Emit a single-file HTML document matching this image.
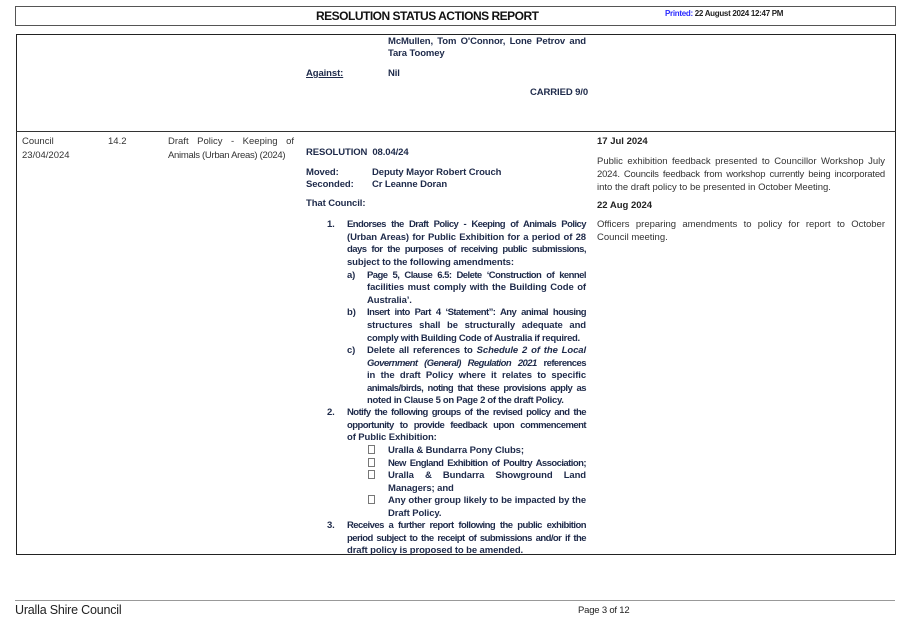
<!DOCTYPE html>
<html><head><meta charset="utf-8"><style>
html,body{margin:0;padding:0;background:#fff;width:907px;height:626px;overflow:hidden;position:relative;font-family:"Liberation Sans",sans-serif;}
.a{position:absolute;white-space:nowrap;font-size:9.5px;line-height:12px;height:12px;}
.b{font-weight:bold;color:#1e2a4a;letter-spacing:-0.1px;}
.n{color:#333;letter-spacing:0px;}
.j{text-align:justify;text-align-last:justify;white-space:normal;overflow:visible;}
.t{letter-spacing:-0.55px;}
.bx{display:inline-block;width:5px;height:7px;border:1px solid #777;vertical-align:-1px;}
</style></head><body>
<div style="position:absolute;left:15px;top:6px;width:879px;height:18px;border:1px solid #555;"></div>
<div class="a" style="left:316px;top:9px;font-size:12px;line-height:14px;height:14px;font-weight:bold;color:#111;letter-spacing:-0.5px;">RESOLUTION STATUS ACTIONS REPORT</div>
<div class="a" style="left:665px;top:8px;font-size:8px;font-weight:bold;letter-spacing:-0.3px;"><span style="color:#2b2bff">Printed:</span> <span style="color:#222">22 August 2024 12:47 PM</span></div>

<div style="position:absolute;left:16px;top:34px;width:878px;height:519px;border:1.5px solid #222;"></div>
<div style="position:absolute;left:16px;top:131px;width:880px;height:1px;background:#333;"></div>

<div class="a b j" style="left:388px;top:36px;width:198px;">McMullen, Tom O'Connor, Lone Petrov and</div>
<div class="a b" style="left:388px;top:48px;">Tara Toomey</div>
<div class="a b" style="left:306px;top:68px;text-decoration:underline;">Against:</div>
<div class="a b" style="left:388px;top:68px;">Nil</div>
<div class="a b" style="left:530px;top:87px;">CARRIED 9/0</div>

<div class="a n" style="left:22px;top:136px;">Council</div>
<div class="a n" style="left:22px;top:150px;">23/04/2024</div>
<div class="a n" style="left:108px;top:136px;">14.2</div>
<div class="a n j" style="left:168px;top:136px;width:126px;">Draft Policy - Keeping of</div>
<div class="a n" style="left:168px;top:150px;letter-spacing:-0.3px;">Animals (Urban Areas) (2024)</div>

<div class="a b" style="left:306px;top:147px;">RESOLUTION&nbsp; 08.04/24</div>
<div class="a b" style="left:306px;top:167px;">Moved:</div>
<div class="a b" style="left:372px;top:167px;">Deputy Mayor Robert Crouch</div>
<div class="a b" style="left:306px;top:179px;">Seconded:</div>
<div class="a b" style="left:372px;top:179px;">Cr Leanne Doran</div>
<div class="a b" style="left:306px;top:198px;">That Council:</div>

<div class="a b" style="left:327px;top:219px;">1.</div>
<div class="a b j t" style="left:347px;top:219px;width:239px;">Endorses the Draft Policy - Keeping of Animals Policy</div>
<div class="a b j" style="left:347px;top:232px;width:239px;">(Urban Areas) for Public Exhibition for a period of 28</div>
<div class="a b j t" style="left:347px;top:244px;width:239px;">days for the purposes of receiving public submissions,</div>
<div class="a b" style="left:347px;top:257px;">subject to the following amendments:</div>
<div class="a b" style="left:347px;top:270px;">a)</div>
<div class="a b j t" style="left:367px;top:270px;width:219px;">Page 5, Clause 6.5: Delete ‘Construction of kennel</div>
<div class="a b j" style="left:367px;top:282px;width:219px;">facilities must comply with the Building Code of</div>
<div class="a b" style="left:367px;top:295px;">Australia’.</div>
<div class="a b" style="left:347px;top:307px;">b)</div>
<div class="a b j t" style="left:367px;top:307px;width:219px;">Insert into Part 4 ‘Statement”: Any animal housing</div>
<div class="a b j" style="left:367px;top:320px;width:219px;">structures shall be structurally adequate and</div>
<div class="a b" style="left:367px;top:333px;letter-spacing:-0.3px;">comply with Building Code of Australia if required.</div>
<div class="a b" style="left:347px;top:345px;">c)</div>
<div class="a b j" style="left:367px;top:345px;width:219px;">Delete all references to <i>Schedule 2 of the Local</i></div>
<div class="a b j t" style="left:367px;top:358px;width:219px;"><i>Government (General) Regulation 2021</i> references</div>
<div class="a b j" style="left:367px;top:370px;width:219px;">in the draft Policy where it relates to specific</div>
<div class="a b j t" style="left:367px;top:383px;width:219px;">animals/birds, noting that these provisions apply as</div>
<div class="a b" style="left:367px;top:395px;letter-spacing:-0.3px;">noted in Clause 5 on Page 2 of the draft Policy.</div>
<div class="a b" style="left:327px;top:407px;">2.</div>
<div class="a b j t" style="left:347px;top:407px;width:239px;">Notify the following groups of the revised policy and the</div>
<div class="a b j t" style="left:347px;top:420px;width:239px;">opportunity to provide feedback upon commencement</div>
<div class="a b" style="left:347px;top:432px;">of Public Exhibition:</div>
<div class="a" style="left:368px;top:445px;"><span class="bx"></span></div>
<div class="a b" style="left:388px;top:445px;">Uralla &amp; Bundarra Pony Clubs;</div>
<div class="a" style="left:368px;top:458px;"><span class="bx"></span></div>
<div class="a b j t" style="left:388px;top:458px;width:198px;">New England Exhibition of Poultry Association;</div>
<div class="a" style="left:368px;top:470px;"><span class="bx"></span></div>
<div class="a b j" style="left:388px;top:470px;width:198px;">Uralla &amp; Bundarra Showground Land</div>
<div class="a b" style="left:388px;top:483px;">Managers; and</div>
<div class="a" style="left:368px;top:495px;"><span class="bx"></span></div>
<div class="a b j" style="left:388px;top:495px;width:198px;">Any other group likely to be impacted by the</div>
<div class="a b" style="left:388px;top:508px;">Draft Policy.</div>
<div class="a b" style="left:327px;top:520px;">3.</div>
<div class="a b j t" style="left:347px;top:520px;width:239px;">Receives a further report following the public exhibition</div>
<div class="a b j t" style="left:347px;top:533px;width:239px;">period subject to the receipt of submissions and/or if the</div>
<div class="a b" style="left:347px;top:545px;">draft policy is proposed to be amended.</div>

<div class="a" style="left:597px;top:136px;font-weight:bold;color:#222;">17 Jul 2024</div>
<div class="a n j" style="left:597px;top:156px;width:288px;">Public exhibition feedback presented to Councillor Workshop July</div>
<div class="a n j" style="left:597px;top:169px;width:288px;letter-spacing:-0.2px;">2024. Councils feedback from workshop currently being incorporated</div>
<div class="a n" style="left:597px;top:182px;">into the draft policy to be presented in October Meeting.</div>
<div class="a" style="left:597px;top:200px;font-weight:bold;color:#222;">22 Aug 2024</div>
<div class="a n j" style="left:597px;top:219px;width:288px;">Officers preparing amendments to policy for report to October</div>
<div class="a n" style="left:597px;top:232px;">Council meeting.</div>

<div style="position:absolute;left:15px;top:600px;width:880px;height:1px;background:#999;"></div>
<div class="a" style="left:15px;top:603px;font-size:12.5px;line-height:15px;height:15px;color:#222;letter-spacing:-0.2px;">Uralla Shire Council</div>
<div class="a" style="left:578px;top:605px;font-size:9.5px;color:#222;letter-spacing:-0.2px;">Page 3 of 12</div>
</body></html>
